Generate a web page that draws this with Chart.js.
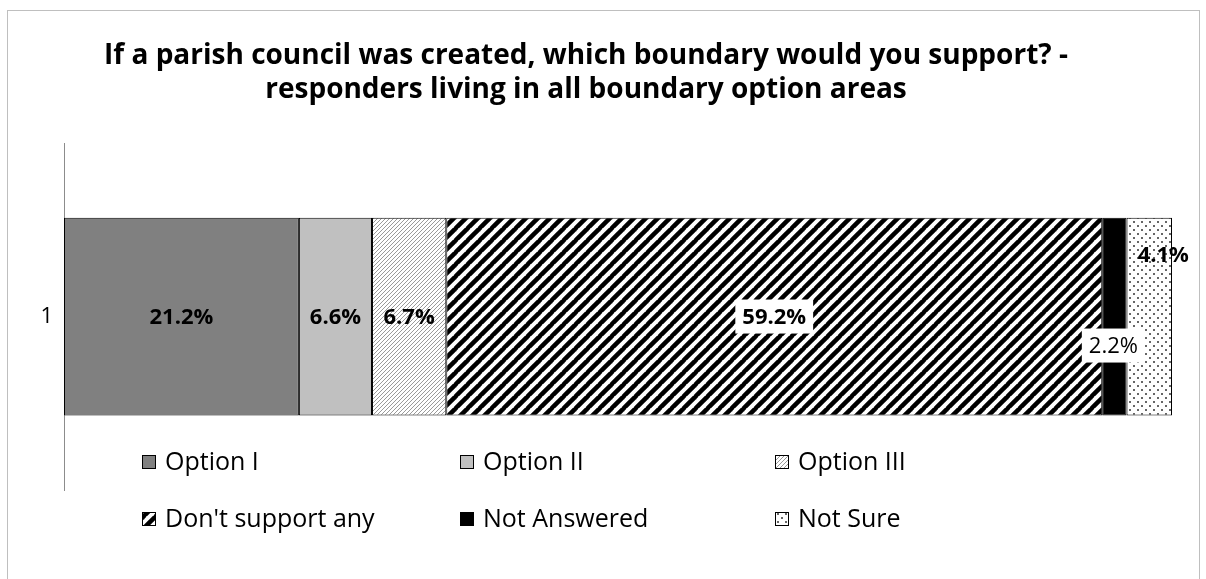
<!DOCTYPE html>
<html lang="en">
<head>
  <meta charset="UTF-8">
  <title>Parish council boundary</title>
  <script src="https://cdn.jsdelivr.net/npm/chart.js"></script>
  <style>
    body {
      margin: 0;
      background-color: #fff;
    }
    .wrap {
      position: relative;
      width: 1206px;
      height: 579px;
      overflow: hidden;
    }
    .frame {
      position: absolute;
      left: 7px;
      top: 10px;
      width: 1193px;
      height: 600px;
      border: 1px solid #bfbfbf;
      box-sizing: border-box;
      pointer-events: none;
    }
  </style>
</head>
<body>
  <div class="wrap">
    <canvas id="boundaryChart" width="1206" height="579"></canvas>
    <div class="frame"></div>
  </div>

  <script>
    const categories = ['1'];
    const seriesNames = ['Option I', 'Option II', 'Option III', "Don't support any", 'Not Answered', 'Not Sure'];
    const optionI = [21.2];
    const optionII = [6.6];
    const optionIII = [6.7];
    const dontSupport = [59.2];
    const notAnswered = [2.2];
    const notSure = [4.1];
    const seriesValues = [optionI, optionII, optionIII, dontSupport, notAnswered, notSure];

    const FONT = "'Open Sans', 'Noto Sans', sans-serif";

    function makeTile(size, draw) {
      const c = document.createElement('canvas');
      c.width = size;
      c.height = size;
      const g = c.getContext('2d');
      g.fillStyle = '#fff';
      g.fillRect(0, 0, size, size);
      draw(g, size);
      return document.createElement('canvas').getContext('2d').createPattern(c, 'repeat');
    }

    // diagonal "/" stripes
    function stripes(size, width, color) {
      return makeTile(size, (g, s) => {
        g.strokeStyle = color;
        g.lineWidth = width;
        for (let k = -1; k <= 1; k++) {
          g.beginPath();
          g.moveTo(k * s - 1, s + 1);
          g.lineTo(k * s + s + 1, -1);
          g.stroke();
        }
      });
    }

    const dots = makeTile(8, (g) => {
      g.fillStyle = '#333';
      g.beginPath(); g.arc(2, 2, 1, 0, Math.PI * 2); g.fill();
      g.beginPath(); g.arc(6, 6, 1, 0, Math.PI * 2); g.fill();
    });

    const fills = ['#808080', '#c0c0c0', stripes(4, 1, '#9a9a9a'), stripes(12, 4.5, '#000'), '#000', dots];

    // label styling per series: bold, white box, offset from bar centre
    const labelStyle = [
      { bold: true, box: false, dx: 0, dy: 0 },
      { bold: true, box: false, dx: 0, dy: 0 },
      { bold: true, box: false, dx: 0, dy: 0 },
      { bold: true, box: true, dx: 0, dy: 0 },
      { bold: false, box: true, dx: -1, dy: 29 },
      { bold: true, box: false, dx: 14, dy: -62 }
    ];

    const barLabels = {
      id: 'barLabels',
      afterDatasetsDraw(chart) {
        const ctx = chart.ctx;
        ctx.save();
        ctx.textAlign = 'center';
        ctx.textBaseline = 'middle';
        chart.data.datasets.forEach((ds, i) => {
          const bar = chart.getDatasetMeta(i).data[0];
          const st = labelStyle[i];
          const x = (bar.x + bar.base) / 2 + st.dx;
          const y = bar.y + st.dy;
          const text = ds.data[0].toFixed(1) + '%';
          ctx.font = (st.bold ? 'bold ' : '') + '22px ' + FONT;
          if (st.box) {
            const w = ctx.measureText(text).width + 14;
            ctx.fillStyle = '#fff';
            ctx.fillRect(x - w / 2, y - 17, w, 34);
          }
          ctx.fillStyle = '#000';
          ctx.fillText(text, x, y + 1);
        });
        ctx.restore();
      }
    };

    const legendCols = [142, 460, 775];
    const legendRows = [462, 519];

    const gridLegend = {
      id: 'gridLegend',
      afterDraw(chart) {
        const ctx = chart.ctx;
        ctx.save();
        ctx.font = '25px ' + FONT;
        ctx.textBaseline = 'middle';
        chart.data.datasets.forEach((ds, i) => {
          const x = legendCols[i % 3];
          const y = legendRows[Math.floor(i / 3)];
          ctx.fillStyle = ds.backgroundColor;
          ctx.fillRect(x, y - 7, 14, 14);
          ctx.strokeStyle = '#000';
          ctx.lineWidth = 1;
          ctx.strokeRect(x + 0.5, y - 6.5, 13, 13);
          ctx.fillStyle = '#000';
          ctx.fillText(ds.label, x + 23, y + 1);
        });
        ctx.restore();
      }
    };

    new Chart(document.getElementById('boundaryChart'), {
      type: 'bar',
      data: {
        labels: categories,
        datasets: seriesNames.map((name, i) => ({
          label: name,
          data: seriesValues[i],
          backgroundColor: fills[i],
          borderColor: '#000',
          borderWidth: 1,
          borderSkipped: false,
          categoryPercentage: 1,
          barPercentage: 0.57
        }))
      },
      options: {
        indexAxis: 'y',
        responsive: false,
        animation: false,
        layout: { padding: { left: 0, right: 34, top: 0, bottom: 89 } },
        scales: {
          x: { stacked: true, min: 0, max: 100, display: false },
          y: {
            stacked: true,
            grid: { display: false },
            border: { color: '#8c8c8c' },
            ticks: { color: '#000', font: { size: 22, family: FONT }, crossAlign: 'center' },
            afterFit(scale) { scale.width = 64; }
          }
        },
        plugins: {
          legend: { display: false },
          tooltip: { enabled: false },
          title: {
            display: true,
            text: ['If a parish council was created, which boundary would you support? -',
                   'responders living in all boundary option areas'],
            color: '#000',
            font: { size: 28, weight: 'bold', family: FONT, lineHeight: 1.18 },
            padding: { top: 40, bottom: 37 }
          }
        }
      },
      plugins: [barLabels, gridLegend]
    });
  </script>
</body>
</html>
